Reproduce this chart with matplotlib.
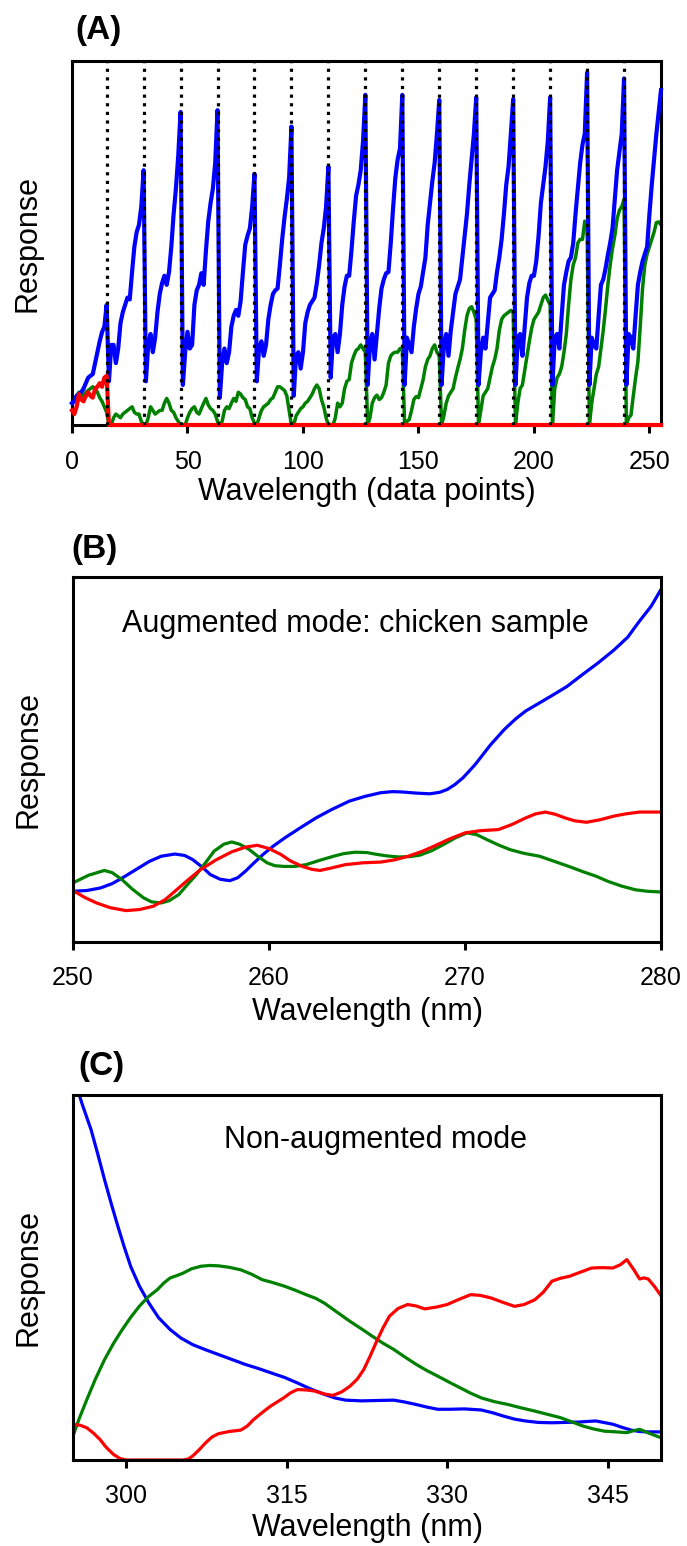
import matplotlib
matplotlib.use("Agg")
import matplotlib.pyplot as plt
import numpy as np

plt.rcParams['font.family'] = ['Liberation Sans', 'DejaVu Sans']

# ---------------- Panel A: augmented mode (16 blocks of 16 data points) -------------
blue_a_blocks = [
    [0.06, 0.065, 0.08, 0.085, 0.09, 0.10, 0.115, 0.13, 0.135, 0.14, 0.17, 0.20, 0.23, 0.255, 0.27, 0.33],
    [0.12, 0.22, 0.22, 0.17, 0.21, 0.28, 0.31, 0.33, 0.35, 0.345, 0.42, 0.49, 0.53, 0.55, 0.60, 0.70],
    [0.12, 0.22, 0.25, 0.20, 0.24, 0.31, 0.36, 0.39, 0.41, 0.385, 0.42, 0.49, 0.58, 0.65, 0.74, 0.86],
    [0.11, 0.20, 0.256, 0.21, 0.22, 0.33, 0.37, 0.385, 0.417, 0.385, 0.48, 0.56, 0.61, 0.65, 0.72, 0.865],
    [0.075, 0.17, 0.21, 0.17, 0.20, 0.27, 0.30, 0.316, 0.30, 0.34, 0.42, 0.495, 0.52, 0.54, 0.60, 0.69],
    [0.12, 0.21, 0.23, 0.19, 0.22, 0.29, 0.33, 0.36, 0.37, 0.375, 0.44, 0.51, 0.57, 0.62, 0.68, 0.82],
    [0.08, 0.19, 0.20, 0.155, 0.20, 0.28, 0.31, 0.33, 0.34, 0.35, 0.39, 0.44, 0.50, 0.54, 0.60, 0.71],
    [0.13, 0.24, 0.25, 0.20, 0.25, 0.33, 0.38, 0.41, 0.41, 0.48, 0.56, 0.63, 0.66, 0.70, 0.78, 0.907],
    [0.11, 0.22, 0.25, 0.18, 0.25, 0.32, 0.375, 0.40, 0.417, 0.42, 0.50, 0.595, 0.68, 0.73, 0.76, 0.907],
    [0.11, 0.24, 0.22, 0.20, 0.27, 0.32, 0.36, 0.38, 0.42, 0.46, 0.55, 0.61, 0.67, 0.72, 0.80, 0.893],
    [0.11, 0.22, 0.25, 0.19, 0.26, 0.31, 0.36, 0.38, 0.40, 0.46, 0.52, 0.58, 0.66, 0.73, 0.80, 0.90],
    [0.11, 0.20, 0.24, 0.21, 0.28, 0.35, 0.36, 0.37, 0.42, 0.46, 0.51, 0.58, 0.66, 0.71, 0.80, 0.895],
    [0.11, 0.24, 0.25, 0.19, 0.27, 0.35, 0.39, 0.41, 0.41, 0.45, 0.52, 0.61, 0.66, 0.71, 0.78, 0.90],
    [0.11, 0.24, 0.25, 0.21, 0.30, 0.385, 0.42, 0.45, 0.46, 0.50, 0.58, 0.65, 0.72, 0.77, 0.80, 0.968],
    [0.11, 0.24, 0.22, 0.21, 0.30, 0.385, 0.40, 0.43, 0.467, 0.50, 0.54, 0.62, 0.70, 0.75, 0.80, 0.952],
    [0.11, 0.25, 0.24, 0.21, 0.30, 0.385, 0.42, 0.45, 0.47, 0.49, 0.58, 0.66, 0.73, 0.80, 0.86, 0.92],
]
green_a_blocks = [
    [0.06, 0.07, 0.08, 0.09, 0.085, 0.08, 0.09, 0.095, 0.10, 0.105, 0.10, 0.09, 0.075, 0.065, 0.05, 0.035],
    [0.0, 0.0, 0.02, 0.03, 0.025, 0.02, 0.03, 0.035, 0.04, 0.045, 0.05, 0.035, 0.03, 0.03, 0.01, 0.0],
    [0.0, 0.02, 0.05, 0.04, 0.03, 0.035, 0.04, 0.04, 0.06, 0.073, 0.06, 0.04, 0.035, 0.02, 0.01, 0.0],
    [0.0, 0.0, 0.02, 0.035, 0.045, 0.05, 0.035, 0.03, 0.045, 0.06, 0.073, 0.055, 0.045, 0.04, 0.03, 0.01],
    [0.0, 0.01, 0.04, 0.05, 0.045, 0.06, 0.073, 0.065, 0.09, 0.085, 0.075, 0.07, 0.05, 0.045, 0.02, 0.005],
    [0.0, 0.02, 0.04, 0.05, 0.055, 0.06, 0.07, 0.075, 0.09, 0.105, 0.105, 0.10, 0.095, 0.08, 0.04, 0.0],
    [0.0, 0.025, 0.035, 0.045, 0.05, 0.06, 0.065, 0.075, 0.085, 0.10, 0.11, 0.10, 0.07, 0.05, 0.02, 0.0],
    [0.0, 0.0, 0.02, 0.06, 0.05, 0.06, 0.10, 0.12, 0.125, 0.17, 0.19, 0.205, 0.21, 0.22, 0.21, 0.20],
    [0.0, 0.02, 0.06, 0.075, 0.082, 0.07, 0.075, 0.09, 0.11, 0.17, 0.19, 0.197, 0.20, 0.20, 0.21, 0.21],
    [0.0, 0.01, 0.015, 0.04, 0.07, 0.078, 0.075, 0.10, 0.124, 0.16, 0.18, 0.19, 0.21, 0.22, 0.20, 0.19],
    [0.0, 0.025, 0.06, 0.08, 0.09, 0.10, 0.13, 0.156, 0.18, 0.21, 0.26, 0.30, 0.32, 0.325, 0.31, 0.29],
    [0.0, 0.04, 0.08, 0.09, 0.10, 0.13, 0.16, 0.18, 0.21, 0.26, 0.29, 0.30, 0.305, 0.31, 0.315, 0.31],
    [0.0, 0.06, 0.10, 0.11, 0.15, 0.19, 0.23, 0.266, 0.29, 0.30, 0.31, 0.33, 0.35, 0.357, 0.343, 0.33],
    [0.0, 0.10, 0.13, 0.14, 0.16, 0.20, 0.25, 0.33, 0.40, 0.44, 0.46, 0.50, 0.51, 0.51, 0.56, 0.55],
    [0.0, 0.06, 0.10, 0.14, 0.16, 0.21, 0.26, 0.32, 0.385, 0.44, 0.485, 0.52, 0.567, 0.59, 0.60, 0.62],
    [0.0, 0.02, 0.027, 0.08, 0.13, 0.174, 0.27, 0.375, 0.44, 0.47, 0.49, 0.51, 0.53, 0.556, 0.558, 0.55],
]
red_a_first_block = [0.04, 0.03, 0.05, 0.085, 0.07, 0.065, 0.08, 0.09, 0.08, 0.075, 0.10, 0.105, 0.115, 0.105, 0.13, 0.135]
red_a_rest = [0.0] * 240
block_ends = [15, 31, 47, 63, 79, 95, 111, 127, 143, 159, 175, 191, 207, 223, 239]
a_ticks = [0, 50, 100, 150, 200, 250]

# ---------------- Panel B: augmented mode, chicken sample -----------------
b_blue_x = [250, 250.7, 251.4, 252.0, 252.5, 253.2, 253.9, 254.5, 255.2, 255.7, 256.1, 256.6, 257.0, 257.5,
            258.0, 258.4, 258.8, 259.2, 259.7, 260.2, 260.8, 261.6, 262.4, 263.2, 264.1, 264.9, 265.7, 266.3,
            266.8, 267.5, 268.2, 268.7, 269.1, 269.5, 269.9, 270.5, 271.3, 272.0, 272.6, 273.1, 273.8, 274.4,
            275.2, 276.0, 276.8, 277.6, 278.3, 278.9, 279.5, 280]
b_blue_y = [0.139, 0.141, 0.148, 0.160, 0.175, 0.198, 0.221, 0.235, 0.241, 0.237, 0.226, 0.205, 0.185, 0.172,
            0.168, 0.176, 0.194, 0.215, 0.240, 0.262, 0.285, 0.313, 0.340, 0.363, 0.386, 0.399, 0.409, 0.412,
            0.411, 0.408, 0.406, 0.410, 0.418, 0.432, 0.450, 0.485, 0.540, 0.582, 0.612, 0.633, 0.655, 0.674,
            0.700, 0.733, 0.765, 0.800, 0.835, 0.879, 0.920, 0.966]
b_green_x = [250, 250.8, 251.6, 252.0, 252.5, 253.0, 253.6, 254.0, 254.5, 254.9, 255.4, 255.8, 256.3, 256.8,
             257.2, 257.7, 258.1, 258.5, 259.0, 259.4, 259.9, 260.3, 260.8, 261.3, 261.9, 262.6, 263.3, 263.8,
             264.4, 265.0, 265.5, 266.0, 266.6, 267.2, 267.7, 268.3, 268.9, 269.5, 270.1, 270.6, 271.1, 271.7,
             272.3, 273.0, 273.8, 274.5, 275.3, 276.0, 276.7, 277.3, 278.0, 278.7, 279.3, 280]
b_green_y = [0.162, 0.183, 0.196, 0.190, 0.171, 0.146, 0.121, 0.110, 0.107, 0.113, 0.130, 0.155, 0.185, 0.220,
             0.249, 0.268, 0.274, 0.268, 0.253, 0.236, 0.217, 0.209, 0.207, 0.207, 0.212, 0.224, 0.235, 0.242,
             0.246, 0.245, 0.240, 0.236, 0.233, 0.234, 0.238, 0.250, 0.267, 0.285, 0.299, 0.294, 0.281, 0.266,
             0.253, 0.243, 0.235, 0.222, 0.207, 0.193, 0.180, 0.166, 0.153, 0.143, 0.139, 0.137]
b_red_x = [250, 250.6, 251.2, 251.9, 252.7, 253.4, 254.1, 254.7, 255.2, 255.8, 256.5, 257.3, 258.1, 258.8,
           259.4, 260.0, 260.6, 261.1, 261.7, 262.2, 262.6, 263.2, 263.9, 264.8, 265.7, 266.4, 267.1, 267.8,
           268.4, 269.2, 270.0, 270.8, 271.7, 272.4, 273.1, 273.6, 274.1, 274.6, 275.1, 275.6, 276.2, 276.9,
           277.6, 278.2, 278.9, 280]
b_red_y = [0.141, 0.122, 0.107, 0.094, 0.086, 0.089, 0.098, 0.116, 0.139, 0.167, 0.198, 0.225, 0.247, 0.260,
           0.265, 0.256, 0.240, 0.222, 0.207, 0.199, 0.196, 0.203, 0.212, 0.217, 0.219, 0.225, 0.235, 0.248,
           0.262, 0.282, 0.299, 0.305, 0.308, 0.322, 0.340, 0.351, 0.356, 0.350, 0.340, 0.332, 0.328, 0.335,
           0.345, 0.351, 0.356, 0.356]
b_ticks = [250, 260, 270, 280]

# ---------------- Panel C: non-augmented mode -----------------
c_blue_x = [295.0, 295.8, 296.7, 297.3, 297.95, 298.6, 299.2, 299.8, 300.4, 301.2, 302.1, 303.0, 304.1, 305.1,
            306.2, 307.4, 308.6, 309.9, 311.1, 312.3, 313.5, 314.8, 316.0, 317.2, 318.5, 319.5, 320.5, 322.0,
            323.4, 325.0, 326.0, 327.1, 328.1, 329.1, 330.3, 331.6, 333.2, 334.3, 335.3, 336.3, 337.3, 338.5,
            339.8, 342.3, 343.9, 345.5, 346.4, 347.2, 348.0, 348.8, 350]
c_blue_y = [1.057, 0.980, 0.904, 0.840, 0.768, 0.700, 0.640, 0.583, 0.530, 0.477, 0.430, 0.390, 0.357, 0.334,
            0.316, 0.302, 0.289, 0.275, 0.262, 0.251, 0.239, 0.226, 0.211, 0.195, 0.180, 0.170, 0.164, 0.162,
            0.163, 0.164, 0.159, 0.152, 0.145, 0.139, 0.139, 0.140, 0.137, 0.129, 0.120, 0.112, 0.107, 0.103,
            0.102, 0.104, 0.107, 0.098, 0.089, 0.082, 0.078, 0.077, 0.077]
c_green_x = [295.0, 295.6, 296.3, 297.1, 297.95, 298.8, 299.6, 300.4, 301.2, 302.0, 302.9, 303.5, 304.1, 304.7,
             305.3, 306.1, 307.0, 307.8, 308.6, 309.6, 310.7, 311.7, 312.7, 313.7, 314.8, 315.8, 316.8, 317.7,
             318.5, 319.7, 320.9, 322.0, 323.0, 324.0, 325.0, 326.0, 327.1, 328.1, 329.1, 330.2, 331.2, 332.2,
             333.2, 334.4, 335.7, 336.9, 338.2, 339.4, 340.6, 341.7, 342.7, 343.7, 344.7, 345.8, 346.8, 347.4,
             348.0, 349.0, 350]
c_green_y = [0.066, 0.115, 0.166, 0.222, 0.275, 0.320, 0.357, 0.391, 0.421, 0.446, 0.467, 0.485, 0.499, 0.505,
             0.512, 0.524, 0.531, 0.533, 0.532, 0.528, 0.521, 0.509, 0.494, 0.486, 0.476, 0.465, 0.453, 0.443,
             0.430, 0.405, 0.380, 0.359, 0.339, 0.320, 0.303, 0.283, 0.262, 0.245, 0.230, 0.213, 0.198, 0.183,
             0.170, 0.160, 0.152, 0.143, 0.134, 0.125, 0.116, 0.104, 0.093, 0.085, 0.079, 0.077, 0.075, 0.080,
             0.084, 0.072, 0.061]
c_red_x = [295.0, 295.7, 296.3, 296.9, 297.5, 298.1, 298.8, 299.4, 300.0, 305.3, 305.8, 306.2, 306.8, 307.4,
           308.0, 308.6, 309.6, 310.7, 311.3, 311.9, 312.7, 313.5, 314.7, 315.4, 316.0, 316.8, 317.6, 318.5,
           319.3, 320.1, 320.9, 321.6, 322.2, 322.8, 323.4, 324.0, 324.6, 325.4, 326.3, 327.1, 327.9, 329.0,
           330.0, 331.1, 332.2, 333.1, 334.1, 335.2, 336.3, 337.2, 338.2, 339.0, 339.8, 340.6, 341.4, 342.5,
           343.5, 344.5, 345.5, 346.2, 346.8, 347.4, 348.0, 348.4, 348.8, 349.4, 350]
c_red_y = [0.098, 0.095, 0.088, 0.074, 0.057, 0.035, 0.015, 0.004, 0.0, 0.0, 0.003, 0.011, 0.028, 0.047,
           0.063, 0.072, 0.078, 0.082, 0.093, 0.111, 0.130, 0.148, 0.170, 0.185, 0.193, 0.192, 0.189, 0.181,
           0.177, 0.186, 0.202, 0.222, 0.248, 0.285, 0.325, 0.362, 0.394, 0.415, 0.426, 0.422, 0.414, 0.419,
           0.426, 0.440, 0.453, 0.451, 0.444, 0.432, 0.421, 0.426, 0.439, 0.460, 0.490, 0.498, 0.503, 0.515,
           0.526, 0.527, 0.526, 0.535, 0.549, 0.524, 0.496, 0.499, 0.496, 0.475, 0.450]
c_ticks = [300, 315, 330, 345]

BLUE = '#0000ff'
GREEN = '#008000'
RED = '#ff0000'

W, H = 687, 1546
fig = plt.figure(figsize=(W / 100, H / 100), dpi=100)


def axes_px(left, top, right, bottom):
    return fig.add_axes([left / W, 1 - bottom / H, (right - left) / W, (bottom - top) / H])


def style(ax, ticks, xlim, xlabel, tick_fs, lab_pad, tick_pad):
    ax.set_xlim(*xlim)
    ax.set_ylim(0, 1)
    ax.set_xticks(ticks)
    ax.set_yticks([])
    for s in ax.spines.values():
        s.set_linewidth(2.2)
        s.set_color('black')
    ax.tick_params(axis='x', direction='out', length=6, width=2.2, labelsize=tick_fs, pad=tick_pad)
    ax.set_xlabel(xlabel, fontsize=22, labelpad=lab_pad)
    ax.set_ylabel('Response', fontsize=22, labelpad=21)


# Panel A
axA = axes_px(72, 61, 661, 425)
blue_a = np.concatenate(blue_a_blocks)
green_a = np.concatenate(green_a_blocks)
red_a = np.array(red_a_first_block + red_a_rest)
xa = np.arange(len(blue_a))
axA.plot(xa, blue_a, color=BLUE, lw=3.0, zorder=3, clip_on=False)
axA.plot(xa, green_a, color=GREEN, lw=2.5, zorder=2, clip_on=False)
axA.plot(xa, red_a, color=RED, lw=3.0, zorder=4, clip_on=False)
for b in block_ends:
    axA.axvline(b, color='black', lw=2.3, ls=(0, (1, 1.7)), zorder=5)
style(axA, a_ticks, (0, 255), 'Wavelength (data points)', 18, 2, 12)

# Panel B
axB = axes_px(73, 577, 661, 942)
axB.plot(b_blue_x, b_blue_y, color=BLUE, lw=2.3)
axB.plot(b_green_x, b_green_y, color=GREEN, lw=2.3)
axB.plot(b_red_x, b_red_y, color=RED, lw=2.3)
axB.text(0.48, 0.87, 'Augmented mode: chicken sample', transform=axB.transAxes,
         ha='center', va='center', fontsize=22)
style(axB, b_ticks, (250, 280), 'Wavelength (nm)', 18, 5, 11)

# Panel C
axC = axes_px(73, 1095, 661, 1460)
axC.plot(c_blue_x, c_blue_y, color=BLUE, lw=2.3)
axC.plot(c_green_x, c_green_y, color=GREEN, lw=2.3)
axC.plot(c_red_x, c_red_y, color=RED, lw=2.3)
axC.text(0.514, 0.877, 'Non-augmented mode', transform=axC.transAxes,
         ha='center', va='center', fontsize=22)
style(axC, c_ticks, (295, 350), 'Wavelength (nm)', 18, 4, 11)

# Panel labels
for lab, x, y in [('(A)', 75, 15), ('(B)', 71, 534), ('(C)', 78, 1051)]:
    fig.text(x / W, 1 - y / H, lab, fontsize=24, fontweight='bold', ha='left', va='top')

fig.savefig('out.png', dpi=100)
